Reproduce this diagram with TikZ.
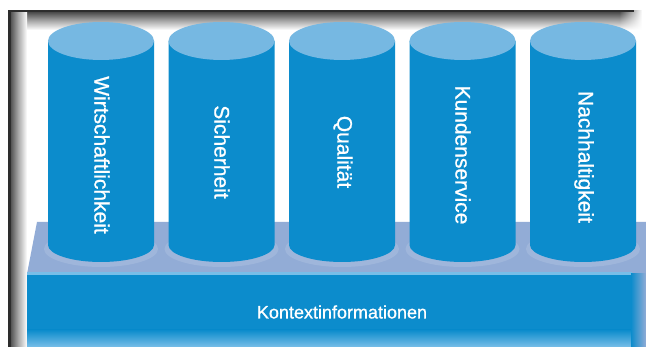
\documentclass[tikz,border=0pt]{standalone}
\usepackage{fontspec}
\setmainfont{Liberation Sans}
\newfontfamily\heavyfont{Liberation Sans}[FakeBold=0.9]
\usetikzlibrary{fadings}
\definecolor{cylblue}{RGB}{12,140,204}
\definecolor{toplight}{RGB}{118,184,226}
\definecolor{platop}{RGB}{146,172,214}
\definecolor{edgeblue}{RGB}{120,190,232}
\definecolor{framedark}{RGB}{45,45,45}
\tikzset{
  cyltext/.style={text=white, font=\heavyfont\fontsize{21}{24}\selectfont, rotate=-90, inner sep=0pt},
  basetext/.style={text=white, font=\heavyfont\fontsize{18}{21}\selectfont, inner sep=0pt},
  cylbody/.style={fill=cylblue},
  cyltop/.style={fill=toplight},
  halo/.style={fill=platop!88!white}
}
\begin{document}
\begin{tikzpicture}[x=1pt,y=-1pt]
\useasboundingbox (0,0) rectangle (646,347);
\fill[white] (0,0) rectangle (646,347);
% frame shadow
\shade[top color=black!75, bottom color=white, middle color=black!35] (9,11) rectangle (620,30);
\shade[top color=black!75, bottom color=white, middle color=black!35, path fading=east] (619,11) rectangle (642,30);
\shade[left color=black!75, right color=white, middle color=black!35] (9,11) rectangle (27,347);
\draw[framedark, line width=2.5pt] (9.5,347) -- (9.5,11) -- (634,11);
% platform
\fill[platop] (37,222) -- (646,222) -- (646,274) -- (27,274) -- cycle;
\fill[cylblue] (27,274) rectangle (632,347);
\shade[top color=cylblue, bottom color=edgeblue] (27,330) rectangle (632,347);
\fill[edgeblue] (27,272) rectangle (632,275);
\shade[left color=cylblue, right color=platop] (631,274) rectangle (646,347);
% cylinders
\foreach \cx in {101,221.5,342,462.5,583}{
  \fill[halo] (\cx,249) ellipse[x radius=57, y radius=18];
  \fill[cylbody] (\cx-53,41) -- (\cx-53,245) arc[start angle=180, end angle=0, x radius=53, y radius=17] -- (\cx+53,41) -- cycle;
  \fill[cyltop] (\cx,41) ellipse[x radius=53, y radius=19];
}
\node[cyltext] (c1) at (102,155) {Wirtschaftlichkeit};
\node[cyltext] (c2) at (222,152) {Sicherheit};
\node[cyltext] (c3) at (343,152) {Qualität};
\node[cyltext] (c4) at (463,155) {Kundenservice};
\node[cyltext] (c5) at (584,157) {Nachhaltigkeit};
\node[basetext] (k) at (342,312) {Kontextinformationen};
\end{tikzpicture}
\end{document}
